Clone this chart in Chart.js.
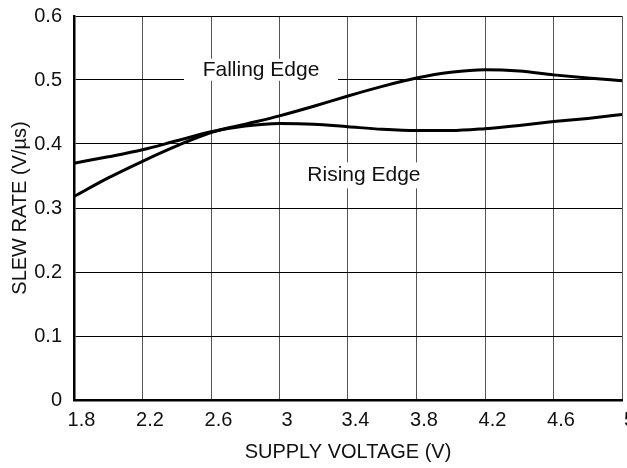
<!DOCTYPE html>
<html>
<head>
<meta charset="utf-8">
<script src="https://cdn.jsdelivr.net/npm/chart.js@4"></script>
<style>
html,body{margin:0;padding:0;background:#fff;}
#wrap{width:627px;height:468px;}
</style>
</head>
<body>
<div id="wrap"><canvas id="c" width="627" height="468"></canvas></div>
<script>
const voltages = [1.8, 2.0, 2.2, 2.4, 2.6, 2.8, 3.0, 3.2, 3.4, 3.6, 3.8, 4.0, 4.2, 4.4, 4.6, 4.8, 5.0];
const fallingEdge = [0.318, 0.347, 0.373, 0.397, 0.418, 0.431, 0.444, 0.459, 0.475, 0.490, 0.503, 0.512, 0.516, 0.514, 0.508, 0.503, 0.499];
const risingEdge  = [0.370, 0.380, 0.391, 0.405, 0.419, 0.428, 0.432, 0.431, 0.427, 0.423, 0.421, 0.421, 0.424, 0.429, 0.435, 0.440, 0.446];
const xTicks = [1.8, 2.2, 2.6, 3.0, 3.4, 3.8, 4.2, 4.6, 5.0];
const yTicks = [0, 0.1, 0.2, 0.3, 0.4, 0.5, 0.6];
const labels = [
  {text: 'Falling Edge', x: 2.892, y: 0.516, boxW: 154, boxH: 22},
  {text: 'Rising Edge', x: 3.493, y: 0.351, boxW: 124, boxH: 26}
];

const FONT = '"Liberation Sans", Arial, Helvetica, sans-serif';

const labelPlugin = {
  id: 'curveLabels',
  beforeDatasetsDraw(chart) {
    const ctx = chart.ctx;
    const xs = chart.scales.x, ys = chart.scales.y;
    ctx.save();
    labels.forEach(l => {
      const px = xs.getPixelForValue(l.x);
      const py = ys.getPixelForValue(l.y);
      ctx.fillStyle = '#ffffff';
      ctx.fillRect(px - l.boxW / 2, py - l.boxH / 2, l.boxW, l.boxH);
      ctx.fillStyle = '#111111';
      ctx.font = '21px ' + FONT;
      ctx.textAlign = 'center';
      ctx.textBaseline = 'middle';
      ctx.fillText(l.text, px, py);
    });
    ctx.restore();
  }
};

const toPts = arr => arr.map((v, i) => ({x: voltages[i], y: v}));

new Chart(document.getElementById('c'), {
  type: 'line',
  data: {
    datasets: [
      {label: 'Falling Edge', data: toPts(fallingEdge), borderColor: '#000', borderWidth: 3, pointRadius: 0, tension: 0.4, cubicInterpolationMode: 'monotone', fill: false},
      {label: 'Rising Edge', data: toPts(risingEdge), borderColor: '#000', borderWidth: 3, pointRadius: 0, tension: 0.4, cubicInterpolationMode: 'monotone', fill: false}
    ]
  },
  options: {
    responsive: false,
    animation: false,
    devicePixelRatio: 1,
    layout: {padding: {top: 16, right: 5, bottom: 0, left: 0}},
    plugins: {legend: {display: false}, tooltip: {enabled: false}},
    scales: {
      x: {
        type: 'linear',
        min: 1.8, max: 5.0,
        afterBuildTicks: s => { s.ticks = xTicks.map(v => ({value: v})); },
        afterFit: s => { s.height = 68; s.paddingLeft = 0; s.paddingRight = 0; },
        grid: {color: '#555', lineWidth: 1, drawTicks: false},
        border: {color: '#000', width: 2.5},
        ticks: {color: '#111', font: {family: FONT, size: 20}, padding: 8, labelOffset: 7.5, autoSkip: false, maxRotation: 0, callback: v => String(v)},
        title: {display: true, text: 'SUPPLY VOLTAGE (V)', color: '#111', font: {family: FONT, size: 20}, padding: 4}
      },
      y: {
        type: 'linear',
        min: 0, max: 0.6,
        afterBuildTicks: s => { s.ticks = yTicks.map(v => ({value: v})); },
        afterFit: s => { s.width = 74; s.paddingTop = 0; s.paddingBottom = 0; },
        grid: {color: '#000', lineWidth: 1, drawTicks: false},
        border: {color: '#000', width: 2.5},
        ticks: {color: '#111', font: {family: FONT, size: 20}, padding: 12, autoSkip: false, callback: v => String(v)},
        title: {display: true, text: 'SLEW RATE (V/µs)', color: '#111', font: {family: FONT, size: 20}, padding: 8}
      }
    }
  },
  plugins: [labelPlugin]
});
</script>
</body>
</html>
